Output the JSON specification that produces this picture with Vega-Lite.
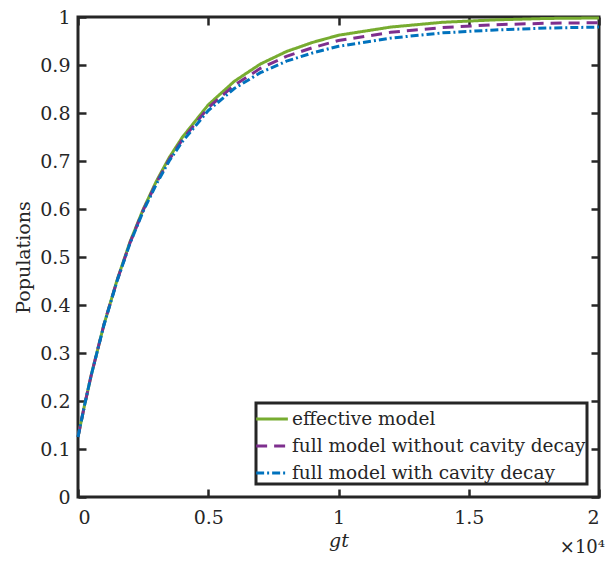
{
  "$schema": "https://vega.github.io/schema/vega-lite/v6.json",
  "width": 521,
  "height": 480,
  "autosize": {"type": "none"},
  "padding": {"left": 78, "top": 17, "right": 16, "bottom": 64},
  "background": "white",
  "title": {"text": "×10⁴", "orient": "bottom", "anchor": "end", "font": "DejaVu Serif", "fontSize": 18, "fontWeight": "normal", "color": "#262626", "offset": -11},
  "config": {
    "view": {"stroke": "#262626", "strokeWidth": 3},
    "axis": {"domain": false, "grid": false, "tickColor": "#262626", "tickWidth": 2.5, "tickSize": -8, "labelFont": "DejaVu Serif", "labelFontSize": 19, "labelColor": "#262626", "titleFont": "DejaVu Serif", "titleFontSize": 19, "titleFontWeight": "normal", "titleColor": "#262626"},
    "legend": {"strokeColor": "#262626", "strokeWidth": 3, "fillColor": "white", "padding": 1, "cornerRadius": 0, "labelFont": "DejaVu Serif", "labelFontSize": 18.5, "labelColor": "#262626", "symbolType": "M-1.2,0L1.2,0", "symbolSize": 700, "symbolStrokeWidth": 3, "rowPadding": 2, "labelOffset": 5, "labelLimit": 400}
  },
  "data": {"values": [
    {"gt": 0, "series": "effective model", "pop": 0.125},
    {"gt": 250, "series": "effective model", "pop": 0.191},
    {"gt": 500, "series": "effective model", "pop": 0.252},
    {"gt": 1000, "series": "effective model", "pop": 0.360},
    {"gt": 1500, "series": "effective model", "pop": 0.452},
    {"gt": 2000, "series": "effective model", "pop": 0.532},
    {"gt": 2500, "series": "effective model", "pop": 0.599},
    {"gt": 3000, "series": "effective model", "pop": 0.657},
    {"gt": 3500, "series": "effective model", "pop": 0.707},
    {"gt": 4000, "series": "effective model", "pop": 0.749},
    {"gt": 5000, "series": "effective model", "pop": 0.817},
    {"gt": 6000, "series": "effective model", "pop": 0.866},
    {"gt": 7000, "series": "effective model", "pop": 0.902},
    {"gt": 8000, "series": "effective model", "pop": 0.928},
    {"gt": 9000, "series": "effective model", "pop": 0.947},
    {"gt": 10000, "series": "effective model", "pop": 0.962},
    {"gt": 12000, "series": "effective model", "pop": 0.979},
    {"gt": 14000, "series": "effective model", "pop": 0.989},
    {"gt": 16000, "series": "effective model", "pop": 0.994},
    {"gt": 18000, "series": "effective model", "pop": 0.997},
    {"gt": 20000, "series": "effective model", "pop": 0.998},
    {"gt": 0, "series": "full model without cavity decay", "pop": 0.125},
    {"gt": 250, "series": "full model without cavity decay", "pop": 0.191},
    {"gt": 500, "series": "full model without cavity decay", "pop": 0.252},
    {"gt": 1000, "series": "full model without cavity decay", "pop": 0.360},
    {"gt": 1500, "series": "full model without cavity decay", "pop": 0.451},
    {"gt": 2000, "series": "full model without cavity decay", "pop": 0.530},
    {"gt": 2500, "series": "full model without cavity decay", "pop": 0.597},
    {"gt": 3000, "series": "full model without cavity decay", "pop": 0.654},
    {"gt": 3500, "series": "full model without cavity decay", "pop": 0.703},
    {"gt": 4000, "series": "full model without cavity decay", "pop": 0.744},
    {"gt": 5000, "series": "full model without cavity decay", "pop": 0.811},
    {"gt": 6000, "series": "full model without cavity decay", "pop": 0.858},
    {"gt": 7000, "series": "full model without cavity decay", "pop": 0.893},
    {"gt": 8000, "series": "full model without cavity decay", "pop": 0.918},
    {"gt": 9000, "series": "full model without cavity decay", "pop": 0.936},
    {"gt": 10000, "series": "full model without cavity decay", "pop": 0.951},
    {"gt": 12000, "series": "full model without cavity decay", "pop": 0.968},
    {"gt": 14000, "series": "full model without cavity decay", "pop": 0.978},
    {"gt": 16000, "series": "full model without cavity decay", "pop": 0.984},
    {"gt": 18000, "series": "full model without cavity decay", "pop": 0.987},
    {"gt": 20000, "series": "full model without cavity decay", "pop": 0.988},
    {"gt": 0, "series": "full model with cavity decay", "pop": 0.125},
    {"gt": 250, "series": "full model with cavity decay", "pop": 0.191},
    {"gt": 500, "series": "full model with cavity decay", "pop": 0.252},
    {"gt": 1000, "series": "full model with cavity decay", "pop": 0.359},
    {"gt": 1500, "series": "full model with cavity decay", "pop": 0.450},
    {"gt": 2000, "series": "full model with cavity decay", "pop": 0.529},
    {"gt": 2500, "series": "full model with cavity decay", "pop": 0.595},
    {"gt": 3000, "series": "full model with cavity decay", "pop": 0.651},
    {"gt": 3500, "series": "full model with cavity decay", "pop": 0.700},
    {"gt": 4000, "series": "full model with cavity decay", "pop": 0.740},
    {"gt": 5000, "series": "full model with cavity decay", "pop": 0.805},
    {"gt": 6000, "series": "full model with cavity decay", "pop": 0.851},
    {"gt": 7000, "series": "full model with cavity decay", "pop": 0.884},
    {"gt": 8000, "series": "full model with cavity decay", "pop": 0.908},
    {"gt": 9000, "series": "full model with cavity decay", "pop": 0.925},
    {"gt": 10000, "series": "full model with cavity decay", "pop": 0.939},
    {"gt": 12000, "series": "full model with cavity decay", "pop": 0.956},
    {"gt": 14000, "series": "full model with cavity decay", "pop": 0.967},
    {"gt": 16000, "series": "full model with cavity decay", "pop": 0.973},
    {"gt": 18000, "series": "full model with cavity decay", "pop": 0.977},
    {"gt": 20000, "series": "full model with cavity decay", "pop": 0.979}
  ]},
  "layer": [
    {
      "mark": {"type": "line", "opacity": 0},
      "encoding": {
        "x": {"field": "gt", "type": "quantitative", "scale": {"domain": [0, 20000], "nice": false}, "axis": {"orient": "top", "labels": false, "title": null, "values": [0, 5000, 10000, 15000, 20000]}},
        "y": {"field": "pop", "type": "quantitative", "scale": {"domain": [0, 1], "nice": false}, "axis": {"orient": "right", "labels": false, "title": null, "values": [0, 0.1, 0.2, 0.3, 0.4, 0.5, 0.6, 0.7, 0.8, 0.9, 1]}},
        "detail": {"field": "series"}
      }
    },
    {
      "mark": {"type": "line", "strokeWidth": 3},
      "encoding": {
        "x": {"field": "gt", "type": "quantitative", "scale": {"domain": [0, 20000], "nice": false}, "axis": {"orient": "bottom", "title": "gt", "titleFontStyle": "italic", "titlePadding": 4, "labelPadding": 19, "values": [0, 5000, 10000, 15000, 20000], "labelExpr": "format(datum.value / 10000, '.1~f')"}},
        "y": {"field": "pop", "type": "quantitative", "scale": {"domain": [0, 1], "nice": false}, "axis": {"orient": "left", "title": "Populations", "titlePadding": 6, "labelPadding": 16, "values": [0, 0.1, 0.2, 0.3, 0.4, 0.5, 0.6, 0.7, 0.8, 0.9, 1], "format": ".1~f"}},
        "color": {"field": "series", "type": "nominal", "sort": null, "scale": {"domain": ["effective model", "full model without cavity decay", "full model with cavity decay"], "range": ["#77AC30", "#7E2F8E", "#0072BD"]}, "legend": {"title": null, "orient": "none", "legendX": 178, "legendY": 386}},
        "strokeDash": {"field": "series", "type": "nominal", "sort": null, "scale": {"domain": ["effective model", "full model without cavity decay", "full model with cavity decay"], "range": [[1, 0], [11, 7], [8, 3, 2, 3]]}, "legend": {"title": null, "orient": "none", "legendX": 178, "legendY": 386}}
      }
    }
  ],
  "resolve": {"axis": {"x": "independent", "y": "independent"}}
}
